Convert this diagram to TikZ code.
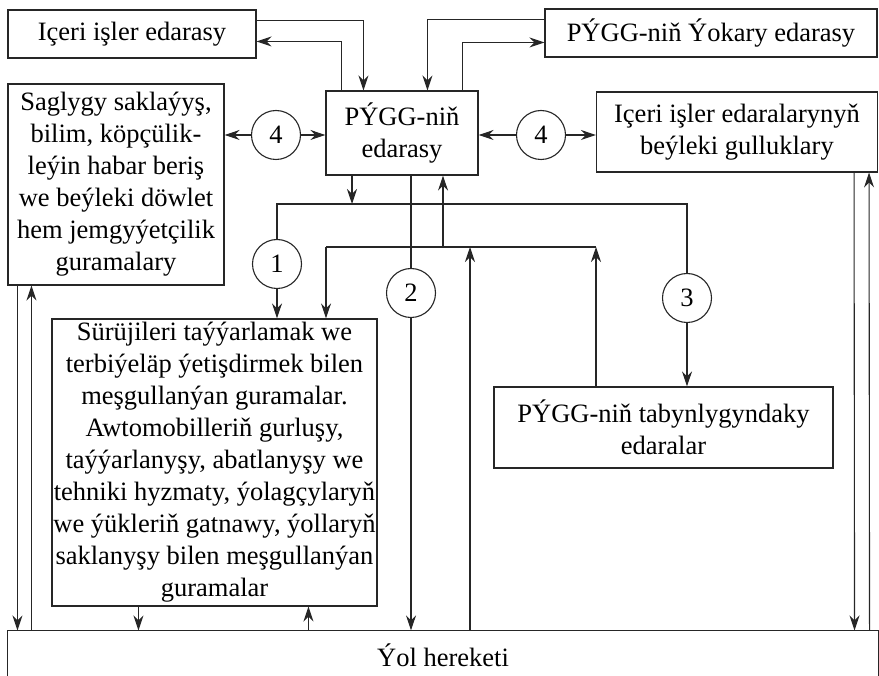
\documentclass[tikz,border=0pt]{standalone}
\usepackage{fontspec}
\setmainfont{Liberation Serif}
\usetikzlibrary{arrows.meta}
\begin{document}
\begin{tikzpicture}[x=1pt,y=-1pt,line width=1.1pt,
  txt/.style={inner sep=0pt, align=center, font=\fontsize{26.5}{32}\selectfont, text=black},
  box/.style={txt, draw=black!85},
  circ/.style={draw=black!85, circle, minimum size=49pt, inner sep=0pt, font=\fontsize{26.5}{32}\selectfont, text=black},
  arr/.style={draw=black!85, -{Stealth[length=15pt,width=10pt,inset=5pt]}},
  ln/.style={draw=black!85}]
\useasboundingbox (0,0) rectangle (879,676);

% boxes
\node[box, minimum width=248pt, minimum height=48pt] (iceri) at (132,34) {Içeri işler edarasy};
\node[box, minimum width=332pt, minimum height=48pt] (yokary) at (711,33) {PÝGG-niň Ýokary edarasy};
\node[box, minimum width=216pt, minimum height=201pt] (sag) at (116,184.5)
  {Saglygy saklaýyş,\\bilim, köpçülik-\\leýin habar beriş\\we beýleki döwlet\\hem jemgyýetçilik\\guramalary};
\node[box, minimum width=152pt, minimum height=84pt] (pygg) at (402,133) {PÝGG-niň\\edarasy};
\node[box, minimum width=281pt, minimum height=80pt] (ieg) at (737,132) {Içeri işler edaralarynyň\\beýleki gulluklary};
\node[box, minimum width=325pt, minimum height=287pt] (sur) at (214.5,462.5)
  {Sürüjileri taýýarlamak we\\terbiýeläp ýetişdirmek bilen\\meşgullanýan guramalar.\\Awtomobilleriň gurluşy,\\taýýarlanyşy, abatlanyşy we\\tehniki hyzmaty, ýolagçylaryň\\we ýükleriň gatnawy, ýollaryň\\saklanyşy bilen meşgullanýan\\guramalar};
\node[box, minimum width=339pt, minimum height=81pt] (tab) at (663.5,427.5) {PÝGG-niň tabynlygyndaky\\edaralar};
\node[txt, minimum width=870pt, minimum height=48pt] (yol) at (443,655) {Ýol hereketi};
\draw[ln] (yol.south west) -- (yol.north west) -- (yol.north east) -- (yol.south east);

% circles
\node[circ] (c4l) at (276,135) {4};
\node[circ] (c4r) at (541,135) {4};
\node[circ] (c1) at (277,264) {1};
\node[circ] (c2) at (411,293) {2};
\node[circ] (c3) at (687,298) {3};

% junction coordinates
\coordinate (j1) at (352,204);
\coordinate (hl) at (277,204);
\coordinate (hr) at (687,204);
\coordinate (gl) at (326,247);
\coordinate (gr) at (596,247);
\coordinate (g2) at (470,247);
\coordinate (g3) at (443,247);

% top connections
\draw[arr] ([yshift=-11pt]iceri.north east) -| ([xshift=38pt]pygg.north west);
\draw[arr] ([xshift=16pt]pygg.north west) |- ([yshift=-32pt]iceri.north east);
\draw[arr] ([yshift=-11pt]yokary.north west) -| ([xshift=102pt]pygg.north west);
\draw[arr] ([xshift=-16pt]pygg.north east) |- ([yshift=-34pt]yokary.north west);

% circles 4
\draw[arr] (c4l.west) -- (sag.east |- c4l);
\draw[arr] (c4l.east) -- (pygg.west |- c4l);
\draw[arr] (c4r.west) -- (pygg.east |- c4r);
\draw[arr] (c4r.east) -- (ieg.west |- c4r);

% distribution line 1 and 3
\draw[arr] (pygg.south -| j1) -- (j1);
\draw[ln] (c1.north) -- (hl) -- (hr) -- (c3.north);
\draw[arr] (c1.south) -- (sur.north -| c1);
\draw[arr] (c3.south) -- (tab.north -| c3);

% collecting line
\draw[ln] (gr) -- (gl);
\draw[arr] (gl) -- (sur.north -| gl);
\draw[arr] (tab.north -| gr) -- (gr);
\draw[arr] (yol.north -| g2) -- (g2);
\draw[arr] (g3) -- (pygg.south -| g3);

% line 2
\draw[ln] (pygg.south -| c2) -- (c2.north);
\draw[arr] (c2.south) -- (yol.north -| c2);

% left side
\draw[arr] ([xshift=10pt]sag.south west) -- ([xshift=10pt]yol.north west);
\draw[arr] ([xshift=24pt]yol.north west) -- ([xshift=24pt]sag.south west);

% below Surujileri
\draw[arr] ([xshift=87pt]sur.south west) -- ([xshift=131pt]yol.north west);
\draw[arr] ([xshift=301pt]yol.north west) -- ([xshift=257pt]sur.south west);

% right side
\draw[arr] ([xshift=-24pt]ieg.south east) -- ([xshift=-24pt]yol.north east);
\draw[arr] ([xshift=-9pt]yol.north east) -- ([xshift=-9pt]ieg.south east);
\end{tikzpicture}
\end{document}
